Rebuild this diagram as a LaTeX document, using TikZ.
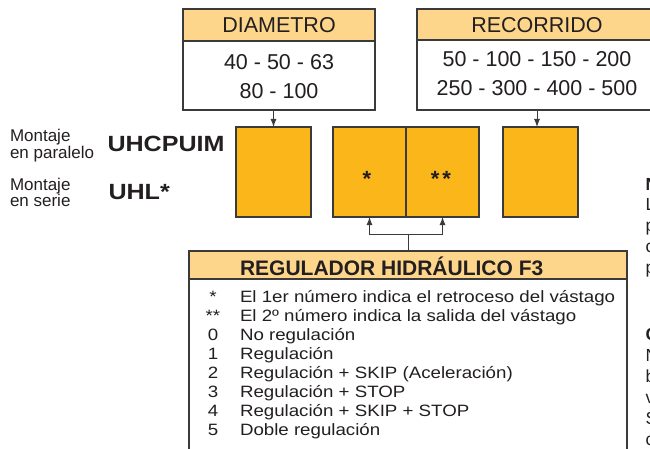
\documentclass[tikz,border=0pt]{standalone}
\usepackage{fontspec}
\setmainfont{Liberation Sans}
\newfontfamily\widefont{Liberation Sans}[FakeStretch=1.14]
\usetikzlibrary{arrows.meta}
\definecolor{hdr}{HTML}{FDD68C}
\definecolor{org}{HTML}{FBB61A}
\definecolor{ln}{HTML}{3A3A3A}
\definecolor{txt}{HTML}{231F20}
\begin{document}
\begin{tikzpicture}[x=1pt,y=-1pt,
  box/.style={draw=ln, line width=1.3pt, inner sep=0pt, outer sep=0pt},
  hdrbox/.style={box, fill=hdr},
  bodybox/.style={box, fill=white},
  orbox/.style={box, fill=org, minimum height=90pt},
  tx/.style={inner sep=0pt, outer sep=0pt, text=txt},
  big/.style={tx, font=\fontsize{21.5}{24}\selectfont},
  lbl/.style={tx, anchor=base west, font=\fontsize{17}{19}\selectfont},
  code/.style={tx, anchor=base west, font=\widefont\bfseries\fontsize{22}{24}\selectfont},
  star/.style={tx, anchor=base, font=\bfseries\fontsize{22}{24}\selectfont},
  li/.style={tx, anchor=base west, font=\widefont\fontsize{16.4}{18}\selectfont},
  lisym/.style={tx, anchor=base, font=\widefont\fontsize{16.4}{18}\selectfont},
  frag/.style={tx, anchor=base west, font=\fontsize{17.5}{19}\selectfont},
  conn/.style={draw=ln, line width=1pt},
  arr/.style={conn, -{Latex[length=8pt,width=6pt]}}
]
\useasboundingbox (0,0) rectangle (650,449);
\clip (0,0) rectangle (650,449);

% DIAMETRO
\node[bodybox, minimum width=192pt, minimum height=69pt] (diamb) at (279,75.5) {};
\node[hdrbox, minimum width=192pt, minimum height=32pt] (diamh) at (279,25) {};
\node[big] (diamt) at (diamh.center) {DIAMETRO};
\node[big] (diam1) at (279,62.5) {40 - 50 - 63};
\node[big] (diam2) at (279,91) {80 - 100};

% RECORRIDO
\node[bodybox, minimum width=240pt, minimum height=70pt] (recb) at (537,75) {};
\node[hdrbox, minimum width=240pt, minimum height=31pt] (rech) at (537,24.5) {};
\node[big] (rect) at (537,25) {RECORRIDO};
\node[big] (rec1) at (537,59.5) {50 - 100 - 150 - 200};
\node[big] (rec2) at (537,88) {250 - 300 - 400 - 500};

% code boxes
\node[orbox, minimum width=75pt] (box1) at (273.5,172) {};
\node[orbox, minimum width=73pt] (box2) at (369.5,172) {};
\node[orbox, minimum width=73pt] (box3) at (442.5,172) {};
\node[orbox, minimum width=75pt] (box4) at (540.5,172) {};
\node[star] (s1) at (367,186.5) {*};
\node[star] (s2) at (441,186.5) {*\kern3pt*};

% left labels
\node[lbl] (m1) at (10,142) {Montaje};
\node[lbl] (p1) at (10,158.5) {en paralelo};
\node[lbl] (m2) at (10,190) {Montaje};
\node[lbl] (p2) at (10,206.5) {en serie};
\node[code] (c1) at (107.5,152) {UHCPUIM};
\node[code] (c2) at (108.5,200) {UHL*};

% REGULADOR
\node[bodybox, minimum width=438pt, minimum height=191pt] (regb) at (408,374.5) {};
\node[hdrbox, minimum width=438pt, minimum height=28pt] (regh) at (408,265) {};
\node[tx, anchor=base west, font=\bfseries\fontsize{21}{24}\selectfont] (regt) at (240,275) {REGULADOR HIDRÁULICO F3};

\node[lisym] (y1) at (213,302) {*};
\node[li] (l1) at (240,302) {El 1er número indica el retroceso del vástago};
\node[lisym] (y2) at (213,321) {**};
\node[li] (l2) at (240,321) {El 2º número indica la salida del vástago};
\node[lisym] (y3) at (213,340) {0};
\node[li] (l3) at (240,340) {No regulación};
\node[lisym] (y4) at (213,359) {1};
\node[li] (l4) at (240,359) {Regulación};
\node[lisym] (y5) at (213,378) {2};
\node[li] (l5) at (240,378) {Regulación + SKIP (Aceleración)};
\node[lisym] (y6) at (213,397) {3};
\node[li] (l6) at (240,397) {Regulación + STOP};
\node[lisym] (y7) at (213,416) {4};
\node[li] (l7) at (240,416) {Regulación + SKIP + STOP};
\node[lisym] (y8) at (213,435) {5};
\node[li] (l8) at (240,435) {Doble regulación};

% connectors
\draw[arr] (box1.north |- diamb.south) -- (box1.north);
\draw[arr] (recb.south) -- (recb.south |- box4.north);
\coordinate (j) at ([yshift=17pt]regh.north);
\draw[conn] (regh.north) -- (j);
\draw[arr] (j) -| (box2.south);
\draw[arr] (j) -| (box3.south);

% clipped text of the neighbouring column
\node[frag, font=\bfseries\fontsize{17.5}{19}\selectfont] (f1) at (645.5,190) {N};
\node[frag] (f2) at (645.5,211) {L};
\node[frag] (f3) at (645.5,231.5) {p};
\node[frag] (f4) at (645.5,252) {c};
\node[frag] (f5) at (645.5,273) {p};
\node[frag, font=\bfseries\fontsize{17.5}{19}\selectfont] (f6) at (645.5,340) {C};
\node[frag] (f7) at (645.5,361.5) {N};
\node[frag] (f8) at (645.5,382.5) {b};
\node[frag] (f9) at (645.5,403) {v};
\node[frag] (f10) at (645.5,424) {S};
\node[frag] (f11) at (645.5,445) {c};
\end{tikzpicture}
\end{document}
